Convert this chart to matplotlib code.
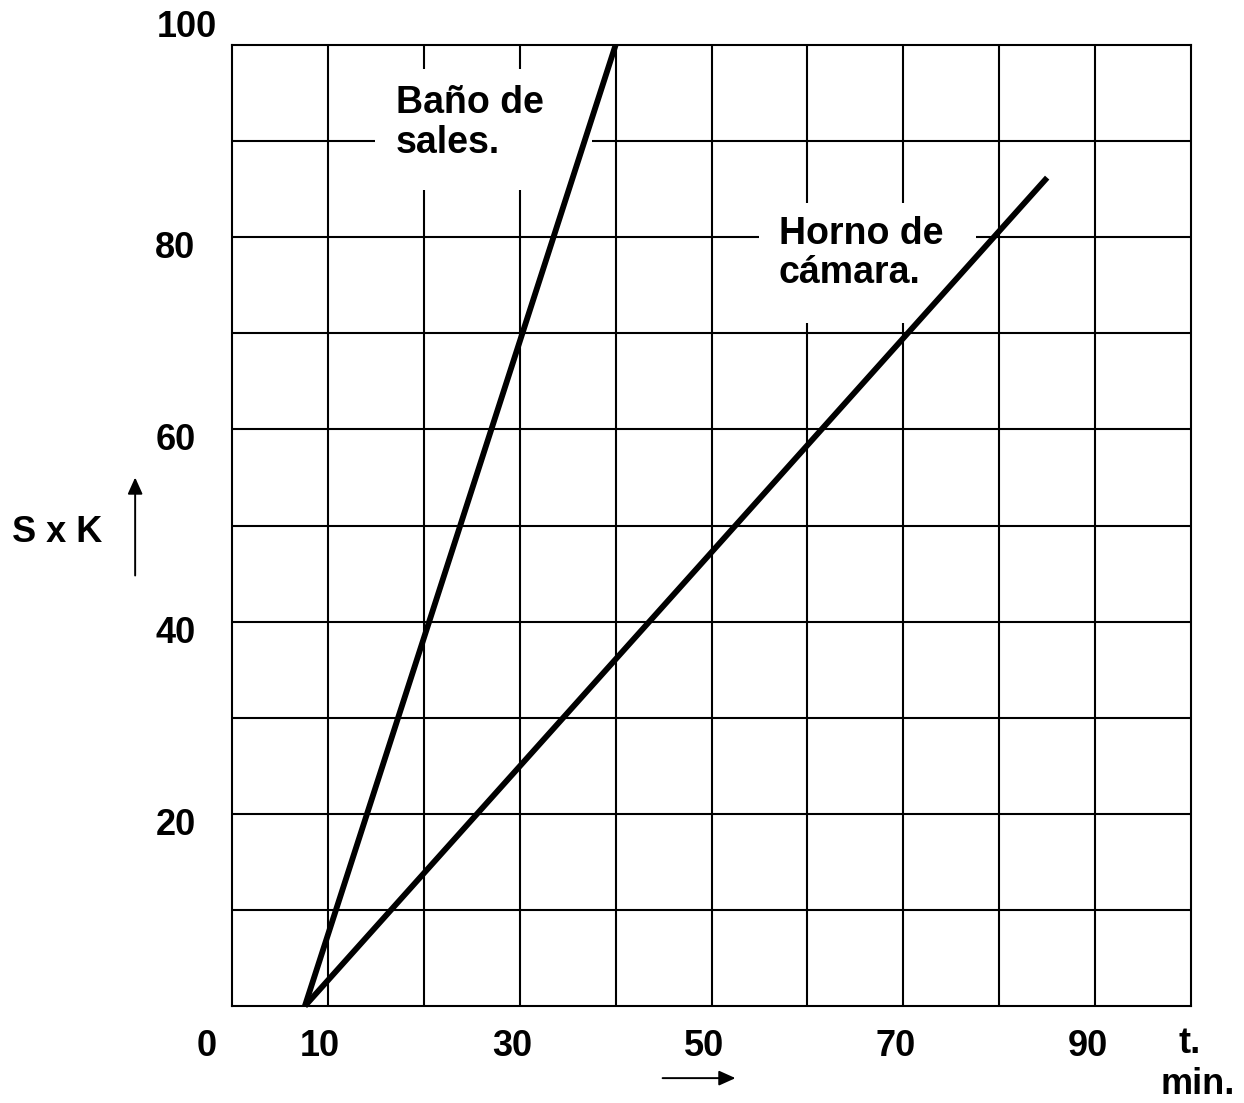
import matplotlib
matplotlib.use("Agg")
import matplotlib.pyplot as plt
from matplotlib.patches import Rectangle

plt.rcParams['font.family'] = ['Liberation Sans', 'DejaVu Sans']
plt.rcParams['font.weight'] = 'bold'

# datos
bano_t = [7.6, 40]
bano_sk = [0, 100]
horno_t = [7.6, 85]
horno_sk = [0, 86.2]

etiquetas_x = ['0', '10', '30', '50', '70', '90']
valores_x = [0, 10, 30, 50, 70, 90]
etiquetas_y = ['20', '40', '60', '80']
valores_y = [20, 40, 60, 80]

fig = plt.figure(figsize=(12.44, 11.03), dpi=100)
ax = fig.add_axes([0.1865, 0.0879, 0.9574 - 0.1865, 0.9592 - 0.0879])
ax.set_xlim(0, 100)
ax.set_ylim(0, 100)

# cuadricula
for v in range(10, 100, 10):
    ax.axvline(v, color='black', lw=1.5, zorder=1)
    ax.axhline(v, color='black', lw=1.5, zorder=1)
for s in ax.spines.values():
    s.set_linewidth(1.5)
ax.set_xticks([])
ax.set_yticks([])

# huecos blancos bajo los rotulos
ax.add_patch(Rectangle((14.9, 84.9), 22.6, 12.6, facecolor='white', edgecolor='none', zorder=2))
ax.add_patch(Rectangle((55.0, 71.1), 22.6, 12.5, facecolor='white', edgecolor='none', zorder=2))

ax.plot(bano_t, bano_sk, color='black', lw=4.2, zorder=3, solid_capstyle='butt', clip_on=False)
ax.plot(horno_t, horno_sk, color='black', lw=4.2, zorder=3, solid_capstyle='butt', clip_on=False)

fs = 26
ax.text(17.1, 95.8, 'Baño de\nsales.', fontsize=27, fontweight='bold', ha='left', va='top',
        linespacing=1.12, zorder=4)
ax.text(57.0, 82.2, 'Horno de\ncámara.', fontsize=27, fontweight='bold', ha='left', va='top',
        linespacing=1.12, zorder=4)

# etiquetas de ejes
for v, lab in zip(valores_x, etiquetas_x):
    dx = -2.6 if v == 0 else -0.8
    ax.text(v + dx, -4.2, lab, fontsize=fs, fontweight='bold', ha='center', va='center', clip_on=False)
for v, lab in zip(valores_y, etiquetas_y):
    ax.text(-5.9, v - 1.2, lab, fontsize=fs, fontweight='bold', ha='center', va='center', clip_on=False)
ax.text(-4.7, 101.8, '100', fontsize=fs, fontweight='bold', ha='center', va='center', clip_on=False)

ax.text(99.9, -3.9, 't.', fontsize=fs, fontweight='bold', ha='center', va='center', clip_on=False)
ax.text(104.6, -9.15, 'min.', fontsize=fs, fontweight='bold', ha='right', va='baseline', clip_on=False)
ax.text(-18.2, 49.3, 'S x K', fontsize=fs, fontweight='bold', ha='center', va='center', clip_on=False)

# flechas
ax.annotate('', xy=(-10.1, 55.0), xytext=(-10.1, 44.8), annotation_clip=False,
            arrowprops=dict(arrowstyle='-|>,head_length=1.0,head_width=0.45', color='black', lw=1.4,
                            shrinkA=0, shrinkB=0))
ax.annotate('', xy=(52.5, -7.5), xytext=(44.9, -7.5), annotation_clip=False,
            arrowprops=dict(arrowstyle='-|>,head_length=1.0,head_width=0.45', color='black', lw=1.4,
                            shrinkA=0, shrinkB=0))

fig.savefig('out.png', dpi=100, facecolor='white')
